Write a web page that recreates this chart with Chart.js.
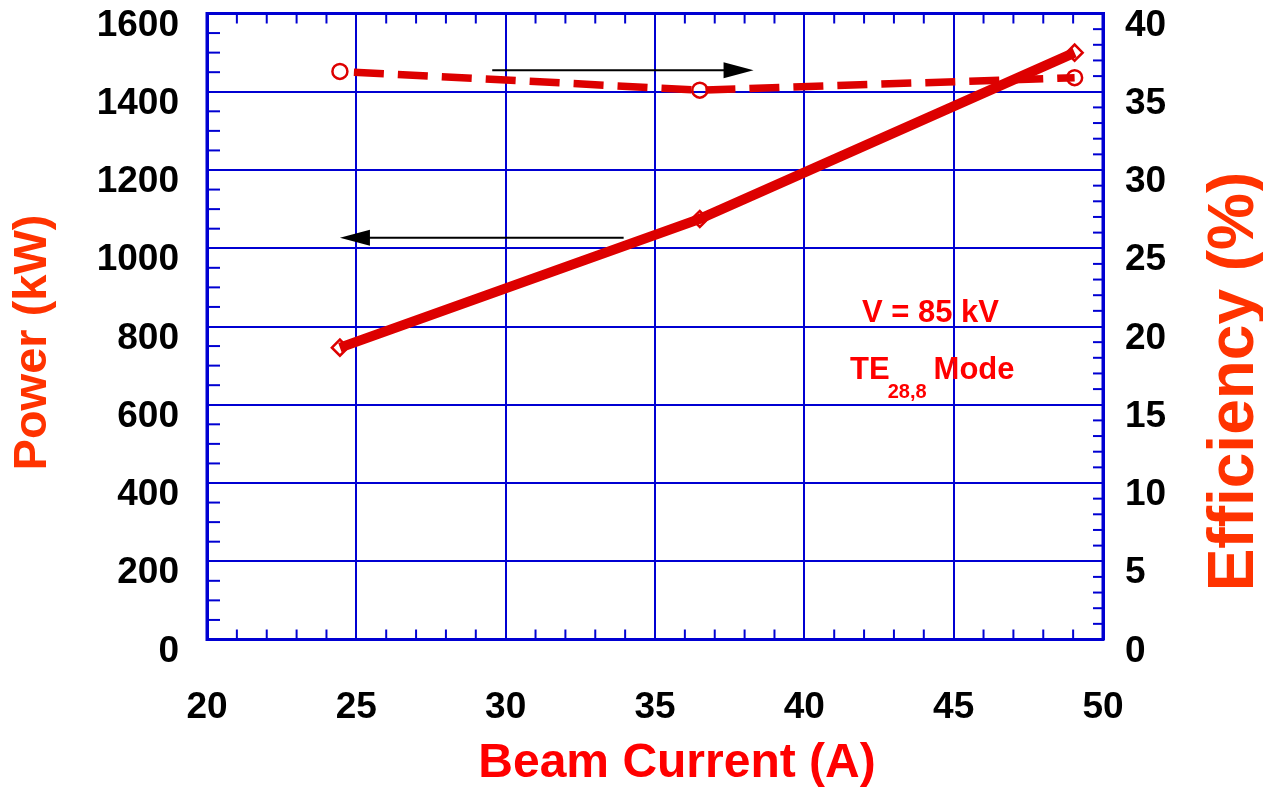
<!DOCTYPE html>
<html><head><meta charset="utf-8">
<script src="https://cdn.jsdelivr.net/npm/chart.js@4/dist/chart.umd.min.js"></script>
<style>html,body{margin:0;padding:0;background:#fff;overflow:hidden}#wrap{width:1263px;height:788px}</style>
</head><body>
<div id="wrap"><canvas id="c" width="1263" height="788"></canvas></div>
<script>
// ---- data ----
const beamCurrent = [24.45, 36.5, 49.05];      // A
const powerKW = [746, 1075, 1500];              // kW
const efficiencyPct = [36.3, 35.1, 35.9];       // %
const xTicks = [20, 25, 30, 35, 40, 45, 50];
const powerTicks = [0, 200, 400, 600, 800, 1000, 1200, 1400, 1600];
const effTicks = [0, 5, 10, 15, 20, 25, 30, 35, 40];
const xTitle = 'Beam Current (A)';
const yTitle = 'Power (kW)';
const y1Title = 'Efficiency (%)';
const noteVoltage = 'V = 85 kV';
const noteModeMain = 'TE';
const noteModeSub = '28,8';
const noteModeTail = 'Mode';
// arrows (data units: beam current, power kW)
const arrowFromX = [29.55, 33.95];
const arrowToX = [38.3, 24.45];
const arrowAtPower = [1455, 1027];

// ---- style ----
const BLUE = '#0000d2';
const RED_LINE = '#dd0000';
const FONT = '"Liberation Sans", Arial, Helvetica, sans-serif';

const decor = {
  id: 'decor',
  beforeDatasetsDraw(chart) {
    const {ctx, chartArea: a, scales} = chart;
    ctx.save();
    ctx.strokeStyle = BLUE;
    ctx.lineWidth = 2;
    const seg = (x1, y1, x2, y2) => { ctx.beginPath(); ctx.moveTo(x1, y1); ctx.lineTo(x2, y2); ctx.stroke(); };
    for (let v = 21; v < 50; v++) {
      if (v % 5 === 0) continue;
      const px = scales.x.getPixelForValue(v);
      seg(px, a.bottom, px, a.bottom - 10);
      seg(px, a.top, px, a.top + 10);
    }
    for (let v = 50; v < 1600; v += 50) {
      if (v % 200 === 0) continue;
      const py = scales.y.getPixelForValue(v);
      seg(a.left, py, a.left + 13, py);
    }
    for (let v = 1; v < 40; v++) {
      if (v % 5 === 0) continue;
      const py = scales.y1.getPixelForValue(v);
      seg(a.right - 10, py, a.right, py);
    }
    ctx.lineWidth = 3;
    ctx.strokeRect(a.left, a.top, a.right - a.left, a.bottom - a.top);
    ctx.restore();
  },
  afterDatasetsDraw(chart) {
    const {ctx, scales} = chart;
    ctx.save();
    ctx.strokeStyle = '#000';
    ctx.fillStyle = '#000';
    ctx.lineWidth = 2;
    for (let i = 0; i < arrowFromX.length; i++) {
      const x1 = scales.x.getPixelForValue(arrowFromX[i]);
      const x2 = scales.x.getPixelForValue(arrowToX[i]);
      const y = scales.y.getPixelForValue(arrowAtPower[i]);
      const dir = Math.sign(x2 - x1);
      ctx.beginPath(); ctx.moveTo(x1, y); ctx.lineTo(x2 - dir * 28, y); ctx.stroke();
      ctx.beginPath();
      ctx.moveTo(x2, y);
      ctx.lineTo(x2 - dir * 30, y - 8);
      ctx.lineTo(x2 - dir * 30, y + 8);
      ctx.closePath(); ctx.fill();
    }
    ctx.fillStyle = '#ff0000';
    ctx.textBaseline = 'alphabetic';
    ctx.textAlign = 'left';
    ctx.font = 'bold 31px ' + FONT;
    const nx = scales.x.getPixelForValue(41.93);
    const ny = scales.y.getPixelForValue(812);
    ctx.fillText(noteVoltage, nx, ny);
    const mx = scales.x.getPixelForValue(41.53);
    const my = scales.y.getPixelForValue(667);
    ctx.fillText(noteModeMain, mx, my);
    const w1 = ctx.measureText(noteModeMain).width;
    ctx.font = 'bold 20px ' + FONT;
    ctx.fillText(noteModeSub, mx + w1 - 2, my + 19);
    const w2 = ctx.measureText(noteModeSub).width;
    ctx.font = 'bold 31px ' + FONT;
    ctx.fillText(noteModeTail, mx + w1 + w2 + 5, my);
    ctx.restore();
  },
  afterDraw(chart) {
    const {ctx, chartArea: a} = chart;
    ctx.save();
    ctx.textAlign = 'center';
    ctx.textBaseline = 'middle';
    ctx.fillStyle = '#ff3300';
    ctx.font = 'bold 47px ' + FONT;
    ctx.translate(33, (a.top + a.bottom) / 2 + 16);
    ctx.rotate(-Math.PI / 2);
    ctx.fillText(yTitle, 0, 0);
    ctx.restore();
    ctx.save();
    ctx.textAlign = 'center';
    ctx.textBaseline = 'middle';
    ctx.fillStyle = '#ff3300';
    ctx.font = 'bold 64px ' + FONT;
    ctx.translate(1235, (a.top + a.bottom) / 2 + 55);
    ctx.rotate(-Math.PI / 2);
    ctx.fillText(y1Title, 0, 0);
    ctx.restore();
    ctx.save();
    ctx.textAlign = 'center';
    ctx.textBaseline = 'alphabetic';
    ctx.fillStyle = '#ff0000';
    ctx.font = 'bold 48px ' + FONT;
    ctx.fillText(xTitle, (a.left + a.right) / 2 + 22, 777);
    ctx.restore();
  }
};

const tickFont = {family: FONT, size: 37, weight: 'bold'};
const plain = v => String(v);

new Chart(document.getElementById('c'), {
  type: 'line',
  data: {
    datasets: [
      {
        label: 'Power',
        data: beamCurrent.map((x, i) => ({x, y: powerKW[i]})),
        yAxisID: 'y',
        borderColor: RED_LINE,
        borderWidth: 10,
        borderCapStyle: 'butt',
        pointStyle: 'rectRot',
        pointRadius: 8,
        pointBorderWidth: 2.5,
        pointBorderColor: RED_LINE,
        pointBackgroundColor: 'rgba(0,0,0,0)',
        tension: 0,
        fill: false
      },
      {
        label: 'Efficiency',
        data: beamCurrent.map((x, i) => ({x, y: efficiencyPct[i]})),
        yAxisID: 'y1',
        borderColor: RED_LINE,
        borderWidth: 7.5,
        borderDash: [30, 14],
        borderDashOffset: 30,
        borderCapStyle: 'butt',
        pointStyle: 'circle',
        pointRadius: 7.5,
        pointBorderWidth: 2.5,
        pointBorderColor: RED_LINE,
        pointBackgroundColor: 'rgba(0,0,0,0)',
        tension: 0,
        fill: false
      }
    ]
  },
  options: {
    responsive: false,
    animation: false,
    devicePixelRatio: 1,
    layout: {padding: {top: 13.5, left: 0, right: 0, bottom: 0}},
    plugins: {legend: {display: false}, tooltip: {enabled: false}},
    scales: {
      x: {
        type: 'linear', position: 'bottom', min: 20, max: 50,
        afterBuildTicks: s => { s.ticks = xTicks.map(v => ({value: v})); },
        afterFit: s => { s.height = 148.5; s.paddingLeft = 0; s.paddingRight = 0; },
        grid: {color: BLUE, lineWidth: 2, drawTicks: false},
        border: {color: BLUE, width: 3},
        ticks: {color: '#000', font: tickFont, padding: 46, maxRotation: 0, callback: plain}
      },
      y: {
        type: 'linear', position: 'left', min: 0, max: 1600,
        afterBuildTicks: s => { s.ticks = powerTicks.map(v => ({value: v})); },
        afterFit: s => { s.width = 207; s.paddingTop = 0; s.paddingBottom = 0; },
        grid: {color: BLUE, lineWidth: 2, drawTicks: false},
        border: {color: BLUE, width: 3},
        ticks: {color: '#000', font: tickFont, padding: 28, labelOffset: 12, callback: plain}
      },
      y1: {
        type: 'linear', position: 'right', min: 0, max: 40,
        afterBuildTicks: s => { s.ticks = effTicks.map(v => ({value: v})); },
        afterFit: s => { s.width = 160; s.paddingTop = 0; s.paddingBottom = 0; },
        grid: {display: false, drawTicks: false},
        border: {color: BLUE, width: 3},
        ticks: {color: '#000', font: tickFont, padding: 22, labelOffset: 12, callback: plain}
      }
    }
  },
  plugins: [decor]
});
</script>
</body></html>
